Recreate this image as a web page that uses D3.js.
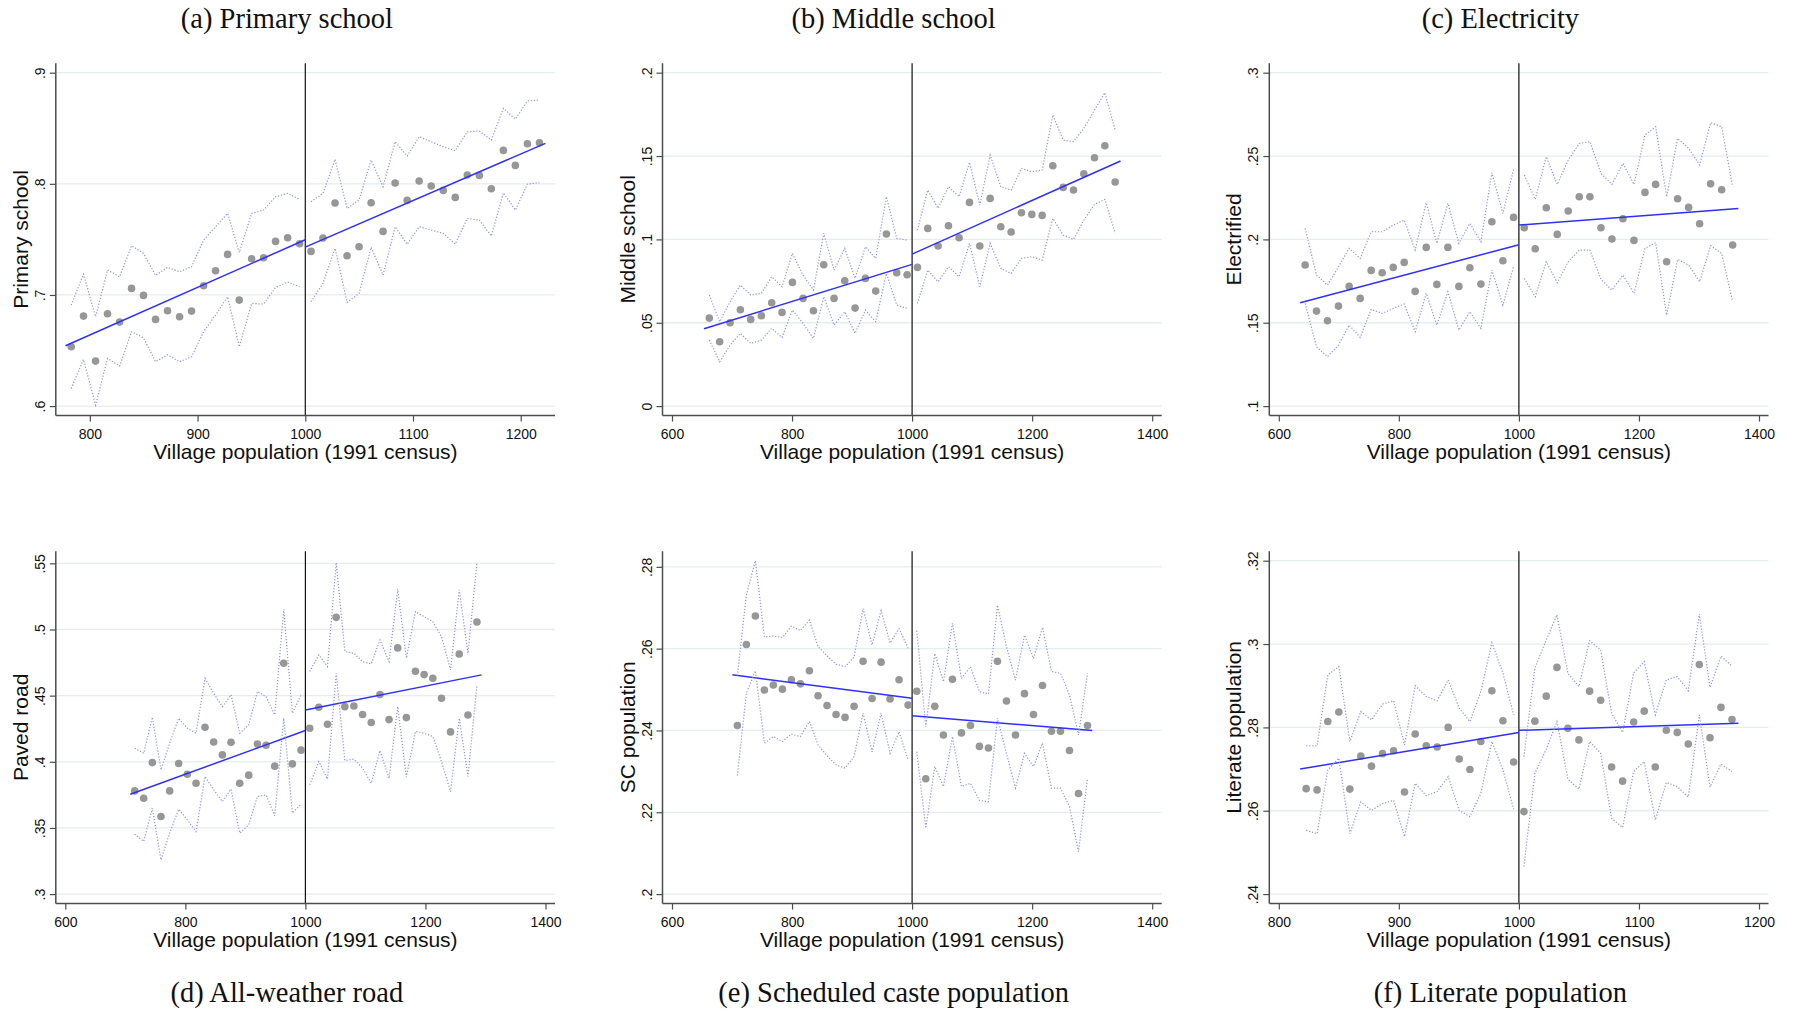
<!DOCTYPE html>
<html>
<head>
<meta charset="utf-8">
<script src="https://cdn.jsdelivr.net/npm/d3@7"></script>
<style>
  html, body { margin: 0; padding: 0; background: #fff; }
  svg { display: block; }
</style>
</head>
<body>
<svg id="chart" width="1796" height="1010"></svg>
<script>
// ---------- Binned means, 95% CI bands and linear fits on each side of the 1000 cutoff ----------

// (a) Primary school
const primaryX = [782.7, 794.1, 805.3, 816.4, 827.6, 838.7, 849.8, 861.0, 872.1, 883.3, 894.4, 905.6, 916.7, 927.9, 938.7, 950.2, 961.3, 972.4, 983.6, 994.7,
  1005.3, 1016.4, 1027.6, 1038.8, 1049.9, 1061.1, 1072.2, 1083.4, 1094.6, 1105.7, 1116.9, 1128.1, 1139.2, 1150.4, 1161.6, 1172.7, 1183.9, 1195.0, 1206.2, 1217.4];
const primaryMean = [.6534, .681, .6405, .6831, .6756, .7059, .6996, .678, .6858, .6804, .6855, .7083, .7218, .7365, .6954, .7326, .7335, .7482, .7515, .7461,
  .7392, .7512, .7827, .7353, .7434, .783, .7572, .8007, .7851, .8025, .798, .7941, .7878, .8079, .8076, .7956, .8301, .8166, .8361, .837];
const primaryUpper = [.6909, .7188, .6804, .7224, .7164, .7443, .7374, .7176, .7248, .7209, .7254, .7494, .7614, .7734, .7383, .7734, .7764, .7884, .7914, .786,
  .7839, .7914, .822, .7779, .7854, .8214, .7974, .8379, .825, .8424, .8379, .8334, .8298, .8469, .8475, .8394, .8679, .8583, .8745, .8754];
const primaryLower = [.6159, .642, .6009, .6429, .636, .6669, .6615, .6399, .6462, .6399, .6444, .6669, .6819, .6984, .6534, .6924, .6918, .7068, .7116, .7074,
  .6939, .7104, .7419, .6933, .7014, .7428, .7179, .7614, .7455, .7614, .7584, .7554, .7458, .7689, .7674, .753, .792, .7764, .7998, .801];
const primaryFitLeft = [[777.4, .6543], [1000, .7497]];
const primaryFitRight = [[1000, .7431], [1222.9, .8364]];

// (b) Middle school
const middleX = [662.2, 679.4, 696.7, 713.9, 731.1, 748.9, 766.1, 783.3, 800.6, 818.3, 835.6, 852.8, 870.0, 887.8, 905.0, 922.2, 939.4, 957.2, 974.4, 991.7,
  1008.9, 1026.1, 1043.3, 1060.6, 1078.3, 1095.6, 1112.8, 1130.0, 1147.8, 1165.0, 1182.2, 1199.4, 1216.7, 1234.4, 1251.7, 1268.9, 1286.1, 1303.9, 1321.1, 1338.3];
const middleMean = [.0528, .0386, .05, .0578, .052, .0542, .062, .0562, .0742, .0646, .0572, .0848, .0646, .0752, .0588, .0766, .069, .1032, .08, .0788,
  .0832, .1066, .096, .1082, .101, .1222, .096, .1246, .1076, .1044, .116, .115, .1144, .1442, .1312, .1296, .1394, .149, .1562, .1344];
const middleUpper = [.0666, .0506, .0626, .0726, .0666, .0676, .0776, .0716, .0916, .0786, .0696, .1036, .0816, .0946, .0766, .0956, .0886, .1256, .1006, .0996,
  .1056, .1296, .1186, .1316, .1256, .1462, .1206, .1506, .1316, .1296, .1426, .1406, .1416, .1746, .1596, .1586, .1666, .1776, .188, .1656];
const middleLower = [.0396, .0266, .0366, .0436, .0376, .0396, .0466, .0412, .0576, .0496, .0406, .0656, .0486, .0566, .0436, .0576, .0506, .0796, .0606, .0586,
  .0616, .0816, .0746, .0836, .0776, .0976, .0716, .0976, .0826, .0796, .0886, .0896, .0876, .1126, .1026, .1, .1116, .121, .124, .1036];
const middleFitLeft = [[653.3, .0464], [1000, .085]];
const middleFitRight = [[1000, .0912], [1347.2, .147]];

// (c) Electricity
const electricX = [643.9, 662.8, 681.1, 699.4, 717.2, 735.6, 753.9, 772.2, 790.6, 808.9, 827.2, 845.6, 863.3, 881.7, 900.0, 918.3, 936.7, 955.0, 973.3, 991.1,
  1008.9, 1027.2, 1045.6, 1063.9, 1082.2, 1100.6, 1118.3, 1136.7, 1155.0, 1173.3, 1191.7, 1210.0, 1227.8, 1246.1, 1264.4, 1282.8, 1301.1, 1319.4, 1337.8, 1356.1];
const electricMean = [.1846, .157, .1512, .16, .1718, .1646, .1814, .18, .1832, .1862, .1688, .1952, .173, .1952, .1718, .183, .1732, .2106, .1872, .2132,
  .207, .1944, .219, .203, .217, .2256, .2256, .207, .2002, .2124, .1994, .2282, .233, .1866, .2244, .2192, .2094, .2334, .2298, .1966];
const electricUpper = [.2066, .1786, .1726, .1836, .1946, .1886, .2046, .2046, .2086, .2116, .1936, .222, .1976, .2216, .1976, .2096, .1986, .24, .2156, .242,
  .2386, .224, .2496, .233, .2476, .2576, .2586, .2396, .233, .2456, .233, .2626, .2676, .2256, .2606, .2546, .2446, .27, .2676, .2316];
const electricLower = [.1616, .1356, .1296, .1366, .1486, .1412, .158, .1556, .1586, .1612, .1446, .1676, .1486, .1686, .1456, .1566, .1466, .1816, .1606, .1836,
  .1766, .1656, .1866, .174, .1866, .1936, .1936, .176, .1696, .1786, .1676, .1946, .198, .1546, .188, .1846, .1746, .1962, .1916, .1626];
const electricFitLeft = [[635.6, .162], [1000, .1968]];
const electricFitRight = [[1000, .2086], [1365.6, .2186]];

// (d) All-weather road
const roadX = [715.6, 730.6, 745.0, 759.4, 773.9, 788.9, 803.3, 817.8, 832.8, 847.2, 861.7, 876.1, 890.6, 905.6, 920.0, 934.4, 948.9, 963.9, 978.3, 992.8,
  1007.2, 1022.3, 1036.8, 1051.3, 1065.7, 1080.8, 1095.3, 1109.7, 1124.2, 1139.3, 1153.8, 1168.2, 1183.3, 1197.8, 1212.3, 1226.7, 1241.8, 1256.3, 1270.8, 1285.8];
const roadMean = [.378, .3725, .3994, .3587, .378, .3987, .3906, .3838, .4261, .415, .4052, .4148, .3838, .3899, .4135, .4125, .3967, .4745, .3984, .4088,
  .4254, .4412, .4284, .5092, .4417, .4422, .4357, .4297, .4508, .4319, .4861, .4334, .4684, .4659, .4631, .448, .4226, .4815, .4354, .5057];
const roadUpper = [.4103, .4065, .4337, .3939, .4141, .4329, .4254, .4216, .4631, .4518, .4417, .4506, .4216, .4279, .4531, .4493, .4355, .5153, .4367, .4506,
  .4682, .4808, .472, .5505, .4833, .482, .4757, .474, .4921, .4757, .5304, .4783, .5135, .5097, .5059, .4946, .4694, .5299, .482, .5505];
const roadLower = [.3453, .3398, .365, .3259, .3461, .3642, .3561, .3473, .3889, .3788, .37, .3793, .3461, .3524, .3738, .375, .3592, .4329, .3612, .368,
  .3826, .4002, .3869, .4669, .401, .402, .3952, .3838, .4085, .3876, .4417, .3884, .4229, .4216, .4191, .4002, .3775, .4329, .3889, .4581];
const roadFitLeft = [[708.3, .3755], [1000, .4236]];
const roadFitRight = [[1000, .4392], [1293.6, .4657]];

// (e) Scheduled caste population
const scX = [708.9, 723.9, 738.9, 753.9, 768.9, 783.9, 798.9, 813.9, 828.9, 843.3, 858.3, 873.3, 888.3, 903.3, 918.3, 933.3, 948.3, 963.3, 978.3, 993.3,
  1007.8, 1022.8, 1037.8, 1052.2, 1067.2, 1082.2, 1097.2, 1112.2, 1127.2, 1142.2, 1157.2, 1172.2, 1187.2, 1202.2, 1217.2, 1232.2, 1247.2, 1262.2, 1277.2, 1292.2];
const scMean = [.2412, .261, .268, .2499, .2511, .2501, .2524, .2514, .2546, .2485, .2461, .2439, .2432, .2459, .2569, .2478, .2567, .2477, .2524, .2462,
  .2496, .2282, .2459, .2389, .2525, .2394, .2412, .2361, .2357, .2569, .2472, .2389, .249, .2439, .251, .2398, .2398, .2351, .2246, .2412];
const scUpper = [.2534, .2731, .2815, .2629, .2631, .2627, .2655, .2644, .267, .2605, .2582, .2562, .2556, .2579, .2698, .2609, .2693, .2614, .2649, .2601,
  .2644, .2409, .2588, .2519, .2662, .2527, .2556, .2495, .2489, .2706, .2605, .2523, .2633, .2576, .2652, .2544, .254, .2487, .2389, .254];
const scLower = [.229, .2491, .2546, .2369, .2385, .2373, .2391, .2385, .2422, .2365, .2338, .2316, .2308, .2336, .2442, .2348, .2442, .2344, .2397, .2328,
  .2348, .2161, .2312, .2263, .2385, .2263, .2271, .2229, .2226, .243, .2344, .2259, .2344, .2312, .2369, .2259, .2259, .2214, .2104, .2283];
const scFitLeft = [[700.6, .2536], [1000, .2479]];
const scFitRight = [[1000, .2436], [1300, .24]];

// (f) Literate population
const literateX = [822.8, 831.9, 840.8, 850.0, 859.2, 868.3, 877.2, 886.4, 895.6, 904.7, 913.6, 922.8, 931.9, 941.1, 950.3, 959.2, 968.3, 977.5, 986.7, 995.6,
  1004.2, 1013.3, 1022.8, 1031.7, 1040.8, 1050.0, 1058.9, 1068.1, 1077.2, 1086.4, 1095.6, 1104.4, 1113.6, 1122.8, 1131.9, 1141.1, 1150.3, 1159.2, 1168.3, 1177.5];
const literateMean = [.2653, .265, .2814, .2837, .2652, .2731, .2707, .2737, .2744, .2645, .2784, .2756, .2753, .28, .2724, .2699, .2766, .2888, .2816, .2717,
  .2598, .2815, .2875, .2944, .2798, .277, .2887, .2865, .2705, .2671, .2813, .2839, .2705, .2793, .2788, .276, .2951, .2775, .2848, .2819];
const literateUpper = [.2756, .2756, .2926, .2946, .2766, .2838, .2818, .2856, .2864, .2758, .29, .2874, .2864, .2914, .2846, .2814, .2886, .3003, .293, .283,
  .273, .2942, .301, .307, .293, .2898, .3008, .2986, .2834, .2788, .2931, .2958, .283, .2914, .2922, .2888, .3072, .2896, .2971, .2947];
const literateLower = [.2553, .2545, .2698, .2726, .2545, .2621, .2601, .2617, .2625, .2538, .2666, .2636, .2646, .2682, .2601, .2586, .2642, .2766, .2698, .2604,
  .2466, .269, .2748, .2814, .2676, .2652, .2766, .2738, .2582, .256, .2694, .2718, .2578, .2668, .2658, .2633, .283, .2657, .2712, .2694];
const literateFitLeft = [[817.8, .27], [1000, .2788]];
const literateFitRight = [[1000, .2793], [1182.8, .281]];

// ---------- Axis ticks ----------
const ticksX800 = [800, 900, 1000, 1100, 1200];
const ticksX600 = [600, 800, 1000, 1200, 1400];
const primaryTicks = [.6, .7, .8, .9];
const primaryTickLabels = [".6", ".7", ".8", ".9"];
const middleTicks = [0, .05, .1, .15, .2];
const middleTickLabels = ["0", ".05", ".1", ".15", ".2"];
const electricTicks = [.1, .15, .2, .25, .3];
const electricTickLabels = [".1", ".15", ".2", ".25", ".3"];
const roadTicks = [.3, .35, .4, .45, .5, .55];
const roadTickLabels = [".3", ".35", ".4", ".45", ".5", ".55"];
const scTicks = [.2, .22, .24, .26, .28];
const scTickLabels = [".2", ".22", ".24", ".26", ".28"];
const literateTicks = [.24, .26, .28, .3, .32];
const literateTickLabels = [".24", ".26", ".28", ".3", ".32"];

const titles = ["(a) Primary school", "(b) Middle school", "(c) Electricity",
                "(d) All-weather road", "(e) Scheduled caste population", "(f) Literate population"];
const yTitles = ["Primary school", "Middle school", "Electrified", "Paved road", "SC population", "Literate population"];
const xTitle = "Village population (1991 census)";
const cutoff = 1000;

// Panel table assembled from the arrays above
const panels = [
  { col: 0, row: 0, x: primaryX, m: primaryMean, hi: primaryUpper, lo: primaryLower, fits: [primaryFitLeft, primaryFitRight],
    xDomain: [777.2, 1223], xTicks: ticksX800, yDomain: [.6, .9], yTicks: primaryTicks, yLabels: primaryTickLabels },
  { col: 1, row: 0, x: middleX, m: middleMean, hi: middleUpper, lo: middleLower, fits: [middleFitLeft, middleFitRight],
    xDomain: [600, 1400], xTicks: ticksX600, yDomain: [0, .2], yTicks: middleTicks, yLabels: middleTickLabels },
  { col: 2, row: 0, x: electricX, m: electricMean, hi: electricUpper, lo: electricLower, fits: [electricFitLeft, electricFitRight],
    xDomain: [600, 1400], xTicks: ticksX600, yDomain: [.1, .3], yTicks: electricTicks, yLabels: electricTickLabels },
  { col: 0, row: 1, x: roadX, m: roadMean, hi: roadUpper, lo: roadLower, fits: [roadFitLeft, roadFitRight],
    xDomain: [600, 1400], xTicks: ticksX600, yDomain: [.3, .552], yTicks: roadTicks, yLabels: roadTickLabels },
  { col: 1, row: 1, x: scX, m: scMean, hi: scUpper, lo: scLower, fits: [scFitLeft, scFitRight],
    xDomain: [600, 1400], xTicks: ticksX600, yDomain: [.2, .2815], yTicks: scTicks, yLabels: scTickLabels },
  { col: 2, row: 1, x: literateX, m: literateMean, hi: literateUpper, lo: literateLower, fits: [literateFitLeft, literateFitRight],
    xDomain: [800, 1200], xTicks: ticksX800, yDomain: [.24, .32], yTicks: literateTicks, yLabels: literateTickLabels }
];

// ---------- Layout ----------
const colLeft = [65.3, 672, 1278.8];
const innerW = 480.2;
const rowTop = [72.7, 560.7];
const innerH = 333.4;
const pad = 9.5;

const axisColor = "#4d4d4d";
const gridColor = "#e5eded";
const pointColor = "#979797";
const fitColor = "#2f2fff";
const ciColor = "#8f8ff5";
const sans = "'Liberation Sans', Arial, sans-serif";
const serif = "'Liberation Serif', 'Times New Roman', serif";

const svg = d3.select("#chart");

panels.forEach((p, i) => {
  const x0 = colLeft[p.col], y0 = rowTop[p.row];
  const x = d3.scaleLinear().domain(p.xDomain).range([x0, x0 + innerW]);
  const y = d3.scaleLinear().domain(p.yDomain).range([y0 + innerH, y0]);
  const boxL = x0 - pad, boxR = x0 + innerW + pad, boxT = y0 - pad, boxB = y0 + innerH + pad;
  const g = svg.append("g");

  // horizontal gridlines
  g.append("g").selectAll("line").data(p.yTicks).join("line")
    .attr("x1", boxL).attr("x2", boxR)
    .attr("y1", d => y(d)).attr("y2", d => y(d))
    .attr("stroke", gridColor).attr("stroke-width", 1.3);

  // cutoff line
  g.append("line")
    .attr("x1", x(cutoff)).attr("x2", x(cutoff))
    .attr("y1", boxT).attr("y2", boxB)
    .attr("stroke", "#111").attr("stroke-width", 1.2);

  // split bins at the cutoff
  const rows = p.x.map((v, k) => ({ x: v, m: p.m[k], hi: p.hi[k], lo: p.lo[k] }));
  const sides = [rows.filter(d => d.x < cutoff), rows.filter(d => d.x >= cutoff)];

  // binned means
  g.append("g").selectAll("circle").data(rows).join("circle")
    .attr("cx", d => x(d.x)).attr("cy", d => y(d.m)).attr("r", 3.8)
    .attr("fill", pointColor);

  // linear fits
  const fitLine = d3.line().x(d => x(d[0])).y(d => y(d[1]));
  p.fits.forEach(f => {
    g.append("path").attr("d", fitLine(f))
      .attr("fill", "none").attr("stroke", fitColor).attr("stroke-width", 1.5);
  });

  // confidence bands (dotted)
  sides.forEach(s => {
    ["hi", "lo"].forEach(key => {
      const ln = d3.line().x(d => x(d.x)).y(d => y(d[key]));
      g.append("path").attr("d", ln(s))
        .attr("fill", "none").attr("stroke", ciColor).attr("stroke-width", 1.2)
        .attr("stroke-dasharray", "1.2,1.8");
    });
  });

  // y axis
  const yAxis = d3.axisLeft(y).tickValues(p.yTicks)
    .tickFormat((d, k) => p.yLabels[k]).tickSize(6).tickSizeOuter(0);
  const ya = g.append("g").attr("transform", `translate(${boxL},0)`).call(yAxis);
  ya.select(".domain").remove();
  ya.selectAll(".tick line").attr("stroke", axisColor).attr("stroke-width", 1.2);
  ya.selectAll(".tick text")
    .attr("x", 0).attr("dy", null).attr("text-anchor", "middle")
    .attr("transform", "translate(-11,0) rotate(-90)")
    .attr("font-family", sans).attr("font-size", 14).attr("fill", "#111");

  // x axis
  const xAxis = d3.axisBottom(x).tickValues(p.xTicks).tickFormat(d3.format("d"))
    .tickSize(6).tickSizeOuter(0);
  const xa = g.append("g").attr("transform", `translate(0,${boxB})`).call(xAxis);
  xa.select(".domain").remove();
  xa.selectAll(".tick line").attr("stroke", axisColor).attr("stroke-width", 1.2);
  xa.selectAll(".tick text")
    .attr("y", 23.5).attr("dy", null)
    .attr("font-family", sans).attr("font-size", 14).attr("fill", "#111");

  // axis lines
  g.append("line").attr("x1", boxL).attr("x2", boxL).attr("y1", boxT).attr("y2", boxB)
    .attr("stroke", axisColor).attr("stroke-width", 1.5);
  g.append("line").attr("x1", boxL).attr("x2", boxR).attr("y1", boxB).attr("y2", boxB)
    .attr("stroke", axisColor).attr("stroke-width", 1.5);

  // axis titles
  g.append("text")
    .attr("transform", `translate(${boxL - 28},${(boxT + boxB) / 2}) rotate(-90)`)
    .attr("text-anchor", "middle")
    .attr("font-family", sans).attr("font-size", 21).attr("fill", "#111")
    .text(yTitles[i]);
  g.append("text")
    .attr("x", (boxL + boxR) / 2).attr("y", boxB + 43)
    .attr("text-anchor", "middle")
    .attr("font-family", sans).attr("font-size", 21).attr("fill", "#111")
    .text(xTitle);

  // panel caption
  g.append("text")
    .attr("x", (boxL + boxR) / 2 - 18.5)
    .attr("y", p.row === 0 ? 28.3 : 1001.5)
    .attr("text-anchor", "middle")
    .attr("font-family", serif).attr("font-size", 28.5).attr("fill", "#111")
    .text(titles[i]);
});
</script>
</body>
</html>
